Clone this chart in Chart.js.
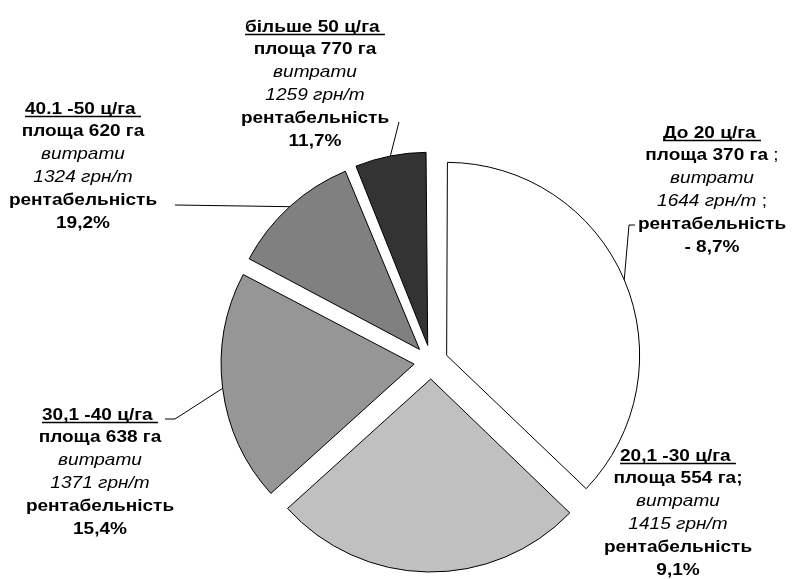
<!DOCTYPE html>
<html lang="uk">
<head>
<meta charset="UTF-8">
<title>Урожайність і рентабельність</title>
<script src="https://cdn.jsdelivr.net/npm/chart.js"></script>
<style>
  html, body { margin: 0; padding: 0; background: #fff; }
  #wrap { width: 795px; height: 579px; position: relative; }
</style>
</head>
<body>
<div id="wrap"><canvas id="pie"></canvas></div>
<script>
// yield groups, clockwise from 12 o'clock
const groups = ['До 20 ц/га', '20,1 -30 ц/га', '30,1 -40 ц/га', '40.1 -50 ц/га', 'більше 50 ц/га'];
const shares = [37.2, 26.1, 19.4, 11.1, 6.2];
const areas = [370, 554, 638, 620, 770];
const costs = [1644, 1415, 1371, 1324, 1259];
const profit = ['- 8,7%', '9,1%', '15,4%', '19,2%', '11,7%'];
const colors = ['#ffffff', '#c0c0c0', '#969696', '#808080', '#333333'];

const R = 193;
const OFFSET = 68;          // chart.js moves the arc by offset/4
const FONT = '"Liberation Sans", Arial, sans-serif';
const FS = 17, SX = 1.12, LH = 22.8;

// label boxes: centre x, first line y
const labelPos = [
  { x: 712, y: 133 },
  { x: 678, y: 456 },
  { x: 100, y: 415 },
  { x: 83,  y: 109 },
  { x: 315, y: 27 }
];
// leader line start points (end is put on the slice's arc)
const leaders = [
  [[635, 225], [629, 225]],
  null,
  [[165, 419], [175, 419]],
  [[175, 205]],
  [[399, 122]]
];

function bold() { return 'bold ' + FS + 'px ' + FONT; }
function ital() { return 'italic ' + FS + 'px ' + FONT; }
function norm() { return FS + 'px ' + FONT; }

function labelLines(i) {
  const areaLine = [{ t: 'площа ' + areas[i] + ' га', f: bold() }];
  if (i === 0) areaLine.push({ t: ' ;', f: norm() });
  if (i === 1) areaLine[0].t += ';';
  const costLine = [{ t: costs[i] + ' грн/т', f: ital() }];
  if (i === 0) costLine.push({ t: ' ;', f: norm() });
  return [
    [{ t: groups[i] + ' ', f: bold(), u: true }],
    areaLine,
    [{ t: 'витрати', f: ital() }],
    costLine,
    [{ t: 'рентабельність', f: bold() }],
    [{ t: profit[i], f: bold() }]
  ];
}

// keep every exploded slice at the same drawn radius
const fixRadius = {
  id: 'fixRadius',
  afterDatasetsUpdate(chart) {
    chart.getDatasetMeta(0).data.forEach(arc => {
      const circ = arc.endAngle - arc.startAngle;
      arc.outerRadius = R - (OFFSET / 4) * (1 - Math.sin(Math.min(Math.PI, circ)));
    });
  }
};

const labels = {
  id: 'labels',
  afterDraw(chart) {
    const ctx = chart.ctx;
    const arcs = chart.getDatasetMeta(0).data;
    ctx.save();
    ctx.fillStyle = '#000';
    ctx.strokeStyle = '#000';
    ctx.textBaseline = 'middle';
    ctx.textAlign = 'left';

    groups.forEach((g, i) => {
      const pos = labelPos[i];
      labelLines(i).forEach((line, k) => {
        const y = pos.y + k * LH;
        let w = 0;
        line.forEach(s => { ctx.font = s.f; s.w = ctx.measureText(s.t).width * SX; w += s.w; });
        let x = pos.x - w / 2;
        line.forEach(s => {
          ctx.font = s.f;
          ctx.save();
          ctx.translate(x, y);
          ctx.scale(SX, 1);
          ctx.fillText(s.t, 0, 0);
          ctx.restore();
          if (s.u) {
            ctx.lineWidth = 1.5;
            ctx.beginPath();
            ctx.moveTo(x, y + 7.5);
            ctx.lineTo(x + s.w, y + 7.5);
            ctx.stroke();
          }
          x += s.w;
        });
      });

      const pts = leaders[i];
      if (!pts) return;
      const a = arcs[i];
      const mid = (a.startAngle + a.endAngle) / 2;
      const ex = a.x + Math.cos(mid) * (OFFSET / 4 + R);
      const ey = a.y + Math.sin(mid) * (OFFSET / 4 + R);
      ctx.lineWidth = 1;
      ctx.beginPath();
      ctx.moveTo(pts[0][0], pts[0][1]);
      pts.slice(1).forEach(p => ctx.lineTo(p[0], p[1]));
      ctx.lineTo(ex, ey);
      ctx.stroke();
    });
    ctx.restore();
  }
};

new Chart(document.getElementById('pie'), {
  type: 'pie',
  data: {
    labels: groups,
    datasets: [{
      data: shares,
      backgroundColor: colors,
      borderColor: '#000',
      borderWidth: 1,
      offset: OFFSET,
      radius: R
    }]
  },
  options: {
    responsive: true,
    maintainAspectRatio: false,
    animation: false,
    layout: { padding: { left: 67, right: 0, top: 145, bottom: 0 } },
    plugins: {
      legend: { display: false },
      tooltip: { enabled: false }
    }
  },
  plugins: [fixRadius, labels]
});
</script>
</body>
</html>
